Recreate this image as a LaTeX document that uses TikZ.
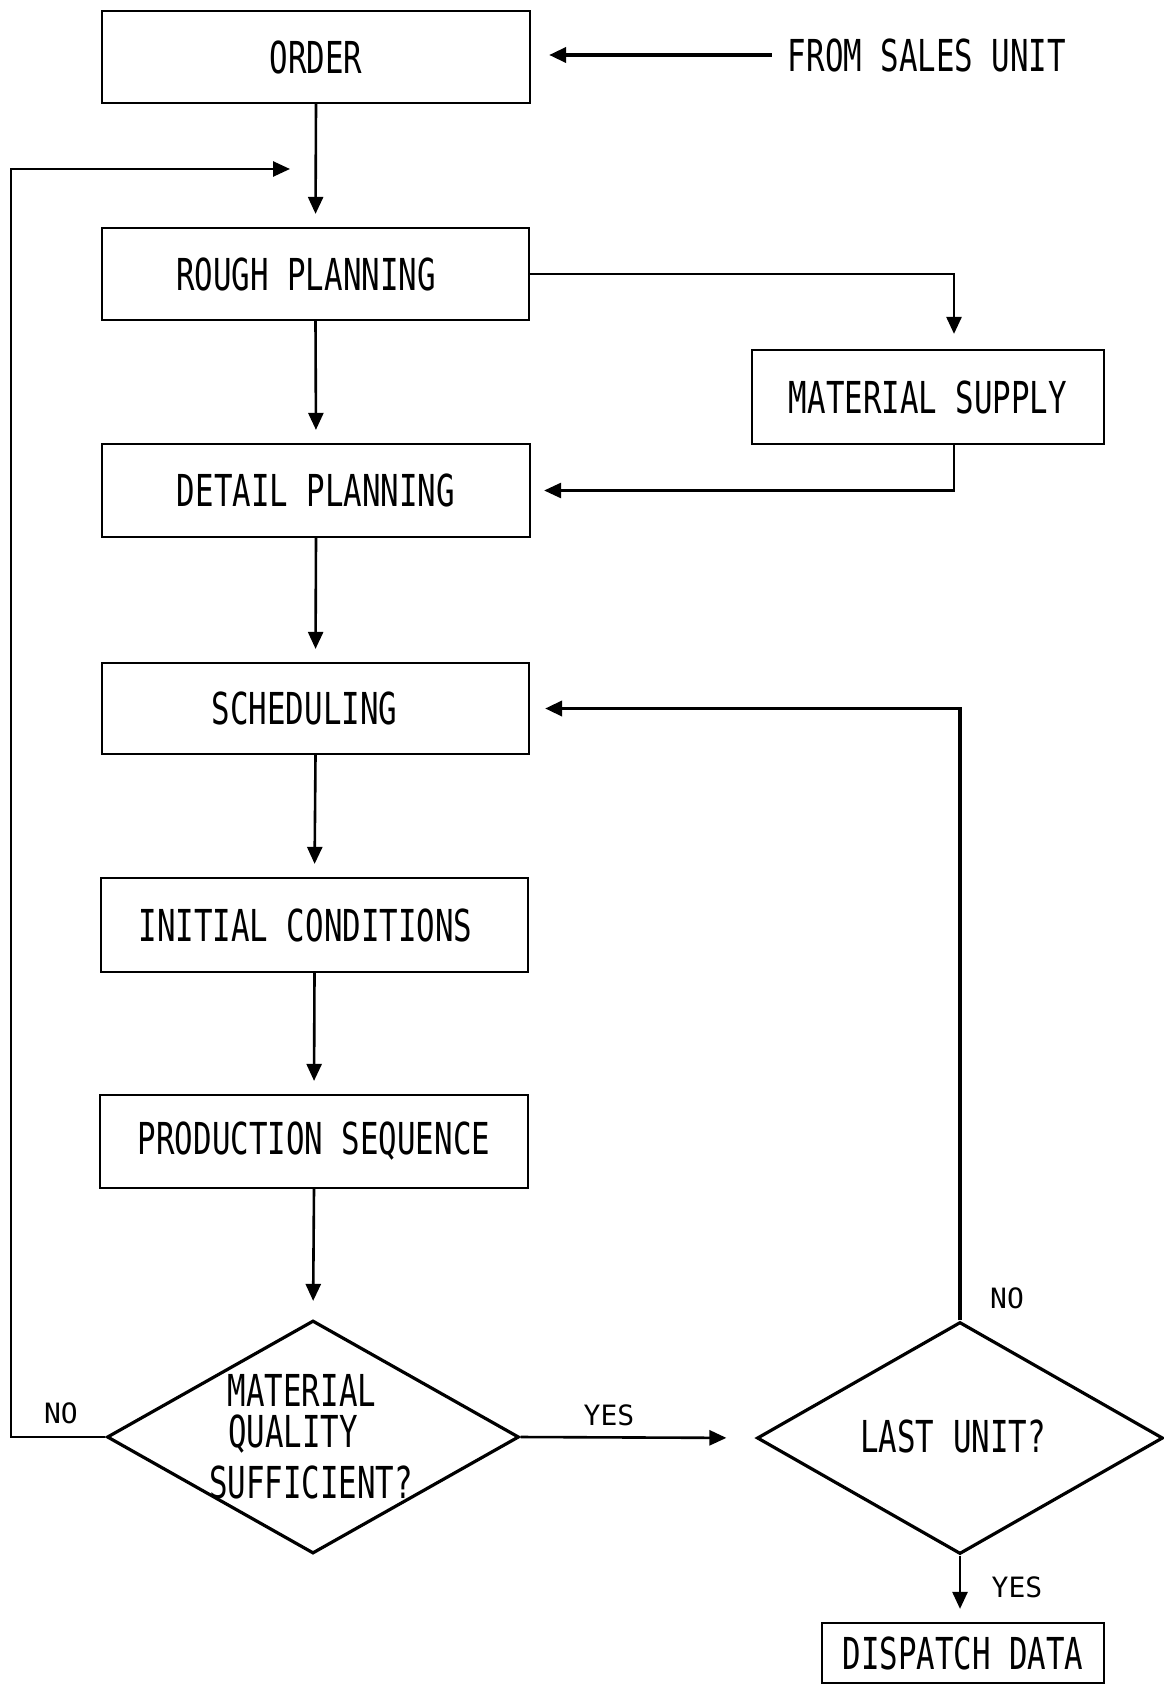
\documentclass[tikz,border=0pt]{standalone}
\usepackage{fontspec}
\newfontfamily\plotfont[FakeStretch=0.7]{DejaVu Sans Mono}
\newfontfamily\smallplot{DejaVu Sans Mono}
\usetikzlibrary{arrows.meta,shapes.geometric}

\tikzset{
  box/.style={draw, line width=1.1pt, inner sep=0pt, font=\plotfont\fontsize{22}{23}\selectfont},
  txt/.style={inner sep=0pt, font=\plotfont\fontsize{22}{23}\selectfont},
  lab/.style={inner sep=0pt, font=\smallplot\fontsize{14}{15}\selectfont},
  decision/.style={draw, diamond, line width=1.6pt, inner sep=0pt},
  flow/.style={line width=1.3pt, -{Triangle[length=8.5pt,width=7.5pt]}, shorten >=6.5pt},
}

\begin{document}
\begin{tikzpicture}[x=0.5pt, y=-0.5pt]
  \useasboundingbox (0,0) rectangle (1163,1684);

  % process boxes
  \node[box, minimum width=214pt, minimum height=46pt]   (order)  at (316,57)    {ORDER};
  \node[box, minimum width=213.5pt, minimum height=46pt] (rough)  at (315.5,274) {ROUGH PLANNING\hspace*{9.5pt}};
  \node[box, minimum width=176pt, minimum height=47pt]   (supply) at (928,397)   {MATERIAL SUPPLY};
  \node[box, minimum width=214pt, minimum height=46.5pt] (detail) at (316,490.5) {DETAIL PLANNING};
  \node[box, minimum width=213.5pt, minimum height=45.5pt] (sched) at (315.5,708.5) {SCHEDULING\hspace*{11pt}};
  \node[box, minimum width=213.5pt, minimum height=47pt] (init)   at (314.5,925) {INITIAL CONDITIONS\hspace*{9pt}};
  \node[box, minimum width=214pt, minimum height=46.5pt] (prod)   at (314,1141.5) {PRODUCTION SEQUENCE};
  \node[box, minimum width=141pt, minimum height=30pt]   (dispatch) at (963,1653) {DISPATCH DATA};

  % decisions
  \node[decision, minimum width=206pt, minimum height=116.5pt] (quality) at (313,1437) {};
  \node[txt] (q1) at (302,1390) {MATERIAL};
  \node[txt] (q2) at (293,1434) {QUALITY};
  \node[txt] (q3) at (311,1482) {SUFFICIENT?};
  \node[decision, minimum width=203pt, minimum height=116pt] (last) at (960,1438) {};
  \node[txt] (lastq) at (953,1436) {LAST UNIT?};

  % external input
  \node[txt, inner sep=8pt] (sales) at (927,55) {FROM SALES UNIT};
  \draw[flow, line width=1.8pt, shorten >=9pt] (sales.west) -- (sales.west -| order.east);

  % main chain
  \draw[flow] (order.south) -- (rough.north);
  \draw[flow] (rough.south) -- (detail.north);
  \draw[flow] (detail.south) -- (sched.north);
  \draw[flow] (sched.south) -- (init.north);
  \draw[flow] (init.south) -- (prod.north);
  \draw[flow, shorten >=9pt] (prod.south) -- (quality.north);

  % material supply loop
  \draw[flow, shorten >=7.5pt] (rough.east) -| ([xshift=13pt]supply.north);
  \draw[flow] ([xshift=13pt]supply.south) |- (detail.east);

  % quality check
  \coordinate (loopcorner) at (11,169);
  \coordinate (looptip) at (290,169);
  \draw[flow, shorten >=0pt] (quality.west) -| (loopcorner) -- (looptip);
  \node[lab] (qno) at (61,1413) {NO};
  \draw[flow, shorten >=14.5pt] (quality.east) -- (last.west);
  \node[lab] (qyes) at (609,1415) {YES};

  % last unit check
  \draw[flow, line width=1.8pt, shorten >=7.5pt] (last.north) |- (sched.east);
  \node[lab] (lno) at (1007,1298) {NO};
  \draw[flow] (last.south) -- (last.south |- dispatch.north);
  \node[lab] (lyes) at (1017,1587) {YES};
\end{tikzpicture}
\end{document}
